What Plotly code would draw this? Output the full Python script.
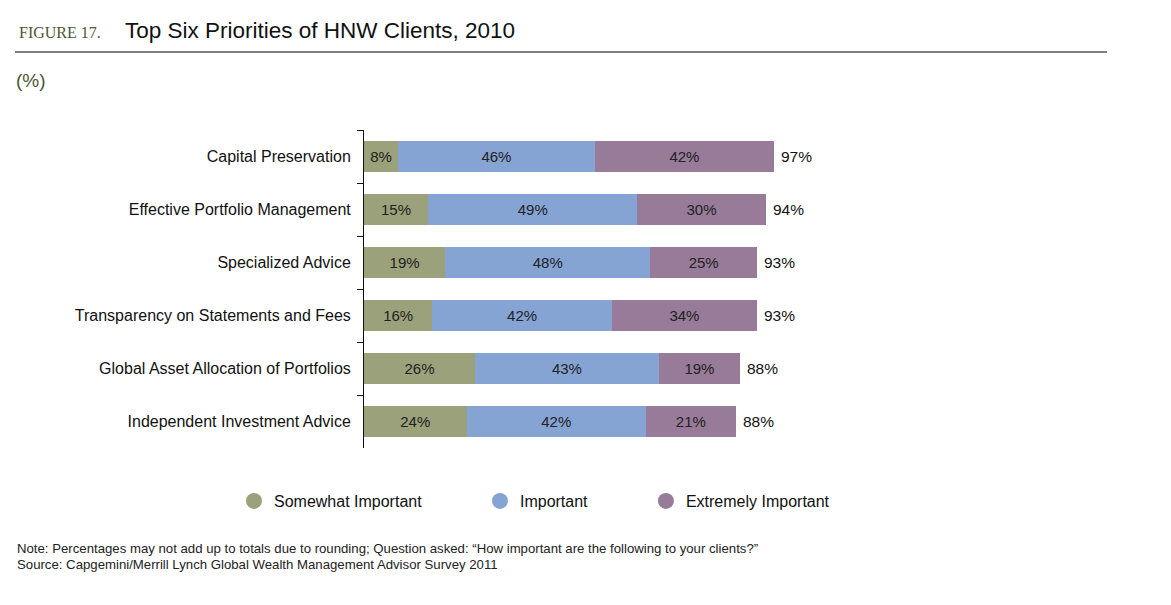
import plotly.graph_objects as go

# ---------------- data ----------------
categories = [
    "Capital Preservation",
    "Effective Portfolio Management",
    "Specialized Advice",
    "Transparency on Statements and Fees",
    "Global Asset Allocation of Portfolios",
    "Independent Investment Advice",
]
somewhat = [8, 15, 19, 16, 26, 24]
important = [46, 49, 48, 42, 43, 42]
extremely = [42, 30, 25, 34, 19, 21]
totals = [97, 94, 93, 93, 88, 88]

series_names = ["Somewhat Important", "Important", "Extremely Important"]
colors = ["#9ba17b", "#85a4d4", "#977b98"]

# ---------------- layout helpers ----------------
OFF = 8  # page body margin
W, H = 1171 - OFF, 605 - OFF
L, T = 364 - OFF, 130 - OFF
pw, ph = 470, 318
R, B = W - L - pw, H - T - ph


def px(x):
    return (x - OFF - L) / pw


def py(y):
    return 1 - (y - OFF - T) / ph


font_sans = "Liberation Sans, Arial, Helvetica"

fig = go.Figure()

for name, vals, col in zip(series_names, [somewhat, important, extremely], colors):
    fig.add_trace(go.Bar(
        y=categories, x=vals, orientation="h", name=name,
        marker=dict(color=col, line=dict(width=0)),
        text=[f"{v}%" for v in vals],
        textposition="inside", insidetextanchor="middle",
        textfont=dict(size=15, color="#222222", family=font_sans),
        showlegend=False, hoverinfo="skip",
    ))
    # legend entries with round markers
    fig.add_trace(go.Scatter(
        x=[None], y=[None], mode="markers",
        name=name + "\u00a0" * 12,
        marker=dict(symbol="circle", size=20, color=col),
    ))

# totals at the end of each bar
sums = [a + b + c for a, b, c in zip(somewhat, important, extremely)]
for cat, s, t in zip(categories, sums, totals):
    fig.add_annotation(x=s, y=cat, text=f"{t}%", showarrow=False,
                       xanchor="left", xshift=5,
                       font=dict(size=15.5, color="#111111"))

# header
fig.add_annotation(xref="paper", yref="paper", x=px(17), y=py(33),
                   text="FIGURE 17.", showarrow=False, xanchor="left", yanchor="middle",
                   font=dict(family="Liberation Serif, Times New Roman", size=16, color="#4c5634"))
fig.add_annotation(xref="paper", yref="paper", x=px(123), y=py(31),
                   text="Top Six Priorities of HNW Clients, 2010", showarrow=False,
                   xanchor="left", yanchor="middle",
                   font=dict(family=font_sans, size=22.5, color="#111111"))
fig.add_shape(type="line", xref="paper", yref="paper",
              x0=px(15), x1=px(1107), y0=py(52), y1=py(52),
              line=dict(color="#000000", width=1))
fig.add_annotation(xref="paper", yref="paper", x=px(14), y=py(81),
                   text="(%)", showarrow=False, xanchor="left", yanchor="middle",
                   font=dict(family=font_sans, size=19, color="#4c5634"))

# notes
fig.add_annotation(xref="paper", yref="paper", x=px(15), y=py(548),
                   text="Note: Percentages may not add up to totals due to rounding; "
                        "Question asked: \u201cHow important are the following to your clients?\u201d",
                   showarrow=False, xanchor="left", yanchor="middle",
                   font=dict(family=font_sans, size=13.2, color="#222222"))
fig.add_annotation(xref="paper", yref="paper", x=px(15), y=py(564),
                   text="Source: Capgemini/Merrill Lynch Global Wealth Management Advisor Survey 2011",
                   showarrow=False, xanchor="left", yanchor="middle",
                   font=dict(family=font_sans, size=13.2, color="#222222"))

fig.update_layout(
    width=W, height=H,
    margin=dict(l=L, r=R, t=T, b=B),
    barmode="stack", bargap=0.43,
    plot_bgcolor="white", paper_bgcolor="white",
    font=dict(family=font_sans, size=16, color="#111111"),
    showlegend=True,
    legend=dict(orientation="h", x=px(234), y=py(501), xanchor="left", yanchor="middle",
                traceorder="normal",
                font=dict(size=16, color="#111111"), itemsizing="trace",
                bgcolor="rgba(0,0,0,0)"),
    xaxis=dict(range=[0, 110], visible=False, fixedrange=True),
    yaxis=dict(autorange="reversed", showline=True, linecolor="#111111", linewidth=1,
               ticks="outside", tickson="boundaries", ticklen=6, tickcolor="#111111",
               ticklabelstandoff=9, showgrid=False, zeroline=False,
               tickfont=dict(size=16, color="#111111")),
)

fig.write_html("out.html")
